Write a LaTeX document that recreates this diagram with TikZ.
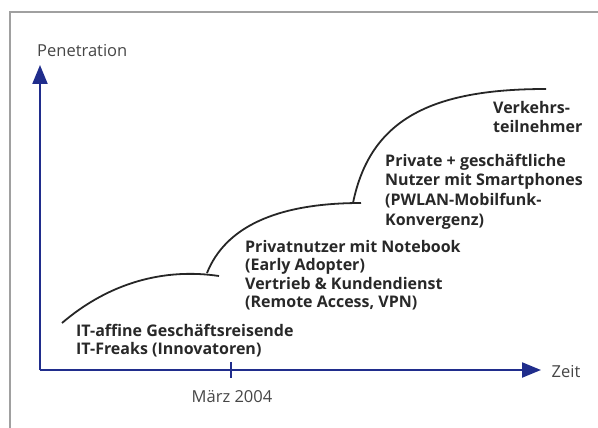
\documentclass[tikz,border=0pt]{standalone}
\usepackage{fontspec}
\setmainfont{Open Sans}
\usetikzlibrary{arrows.meta}
\definecolor{axisblue}{RGB}{32,45,140}
\definecolor{framegray}{RGB}{160,160,160}
\definecolor{txt}{RGB}{40,40,40}
\definecolor{lbl}{RGB}{70,70,70}
\begin{document}
\begin{tikzpicture}[x=1pt,y=-1pt,
  axis/.style={draw=axisblue,line width=2.2pt,-{Triangle[length=19pt,width=15pt]}},
  curve/.style={draw=black!85,line width=1.8pt},
  lab/.style={font=\fontsize{16.5}{19}\selectfont,text=lbl,inner sep=0pt},
  grp/.style={font=\fontsize{16}{19}\bfseries\selectfont,text=txt,inner sep=0pt,align=left,anchor=base west}]
\useasboundingbox (0,0) rectangle (598,428);
\draw[framegray,line width=1.4pt] (10,440) -- (10,12) -- (610,12);
\coordinate (O) at (40,370);
\coordinate (Ytip) at (40,65);
\coordinate (Xtip) at (541,370);
\draw[axis] (O) -- (Ytip);
\draw[axis] (O) -- (Xtip);
\coordinate (T1) at (231,362);
\coordinate (T2) at (231,378);
\draw[axisblue,line width=1.8pt] (T1) -- (T2);
\node[lab,anchor=west] (pen) at (37,51) {Penetration};
\node[lab] (zeit) at (566,372) {Zeit};
\node[lab] (maerz) at (232,397) {März 2004};
% curves
\coordinate (a0) at (62,323);
\coordinate (a1) at (219,276);
\coordinate (b0) at (207,273);
\coordinate (b1) at (361,203);
\coordinate (c0) at (353,203);
\coordinate (c1) at (546,89);
\draw[curve] (a0) .. controls (110,282) and (165,268) .. (a1);
\draw[curve] (b0) .. controls (225,228) and (275,203) .. (b1);
\draw[curve] (c0) .. controls (370,120) and (430,89) .. (c1);
% texts (anchored at the baseline of the last line)
\node[grp,font=\fontsize{16}{18}\bfseries\selectfont] (g1) at (76,354) {IT-affine Geschäftsreisende\\IT-Freaks (Innovatoren)};
\node[grp,font=\fontsize{16}{18.5}\bfseries\selectfont] (g2) at (245,307.5) {Privatnutzer mit Notebook\\(Early Adopter)\\Vertrieb \& Kundendienst\\(Remote Access, VPN)};
\node[grp,font=\fontsize{16}{19.6}\bfseries\selectfont] (g3) at (385,225) {Private + geschäftliche\\Nutzer mit Smartphones\\(PWLAN-Mobilfunk-\\Konvergenz)};
\node[grp,font=\fontsize{16}{20}\bfseries\selectfont] (g4) at (493,133) {Verkehrs-\\teilnehmer};
\end{tikzpicture}
\end{document}
